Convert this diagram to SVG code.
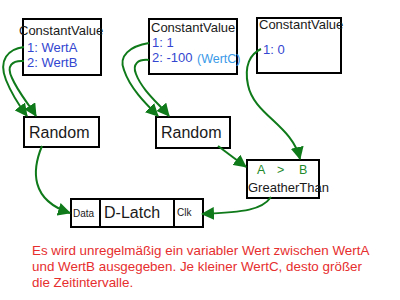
<svg xmlns="http://www.w3.org/2000/svg" width="400" height="300" viewBox="0 0 400 300">
<style>
.box{fill:#fff;stroke:#000;stroke-width:2}
.t{font-family:"Liberation Sans",Arial,sans-serif;fill:#1a1a1a}
.v{font-family:"Liberation Sans",Arial,sans-serif;fill:#3346d0;font-size:13px}
.c{fill:none;stroke:#0f7a1a;stroke-width:2}
.note{font-family:"Liberation Sans",Arial,sans-serif;fill:#e62e2e;font-size:13.4px}
</style>
<defs>
<marker id="ah" markerUnits="userSpaceOnUse" markerWidth="13" markerHeight="13" refX="12" refY="6.5" orient="auto">
<path d="M0,0 L13,6.5 L0,13 z" fill="#0f7a1a"/>
</marker>
</defs>
<rect width="400" height="300" fill="#fff"/>
<g id="cv1">
<rect class="box" x="23" y="19" width="78" height="56"/>
<text class="t" x="19" y="35" font-size="13">ConstantValue</text>
<text class="v" x="27" y="52">1: WertA</text>
<text class="v" x="27" y="67">2: WertB</text>
</g>
<g id="cv2">
<rect class="box" x="149" y="19" width="88" height="55"/>
<text class="t" x="151" y="32" font-size="13">ConstantValue</text>
<text class="v" x="152" y="47">1: 1</text>
<text class="v" x="152" y="62">2: -100</text>
<text class="t" x="197" y="63" font-size="12.5" style="fill:#3a9ae8">(WertC)</text>
</g>
<g id="cv3">
<rect class="box" x="257" y="18" width="84" height="55"/>
<text class="t" x="259" y="29" font-size="13">ConstantValue</text>
<text class="v" x="263" y="54">1: 0</text>
</g>
<g id="random1">
<rect class="box" x="24" y="117" width="75" height="30"/>
<text class="t" x="29" y="138" font-size="16">Random</text>
</g>
<g id="random2">
<rect class="box" x="156" y="117" width="74" height="31"/>
<text class="t" x="161" y="138" font-size="16">Random</text>
</g>
<g id="greater">
<rect class="box" x="247" y="160" width="72" height="38"/>
<text class="t" font-size="12.5" style="fill:#1f8a2a"><tspan x="257" y="174">A</tspan><tspan x="277" y="174">&gt;</tspan><tspan x="299" y="174">B</tspan></text>
<text class="t" x="248" y="192" font-size="13">GreatherThan</text>
</g>
<g id="dlatch">
<rect class="box" x="71" y="199" width="29" height="28"/>
<rect class="box" x="100" y="199" width="74" height="28"/>
<rect class="box" x="174" y="199" width="29" height="28"/>
<text class="t" x="73" y="217" font-size="10">Data</text>
<text class="t" x="104" y="218" font-size="16">D-Latch</text>
<text class="t" x="177" y="216" font-size="10">Clk</text>
</g>
<g id="connectors">
<path class="c" marker-end="url(#ah)" d="M24,47 C8,49 -2,60 6,80 C12,95 18,104 27,116"/>
<path class="c" marker-end="url(#ah)" d="M24,61 C12,60 6,66 12,78 C18,92 28,103 36,116"/>
<path class="c" marker-end="url(#ah)" d="M149,43 C130,46 118,56 124,70 C130,88 145,103 158,116"/>
<path class="c" marker-end="url(#ah)" d="M149,60 C138,59 132,64 136,74 C142,90 158,103 169,116"/>
<path class="c" marker-end="url(#ah)" d="M261,49 C250,54 244,66 248,85 C254,115 292,125 300,159"/>
<path class="c" marker-end="url(#ah)" d="M218,146 L246,167"/>
<path class="c" marker-end="url(#ah)" d="M42,146 C32,170 30,200 70,213"/>
<path class="c" marker-end="url(#ah)" d="M271,197 C262,210 245,212 202,214"/>
</g>
<g id="note">
<text class="note" x="32" y="255">Es wird unregelmäßig ein variabler Wert zwischen WertA</text>
<text class="note" x="32" y="271">und WertB ausgegeben. Je kleiner WertC, desto größer</text>
<text class="note" x="32" y="287">die Zeitintervalle.</text>
</g>
</svg>
